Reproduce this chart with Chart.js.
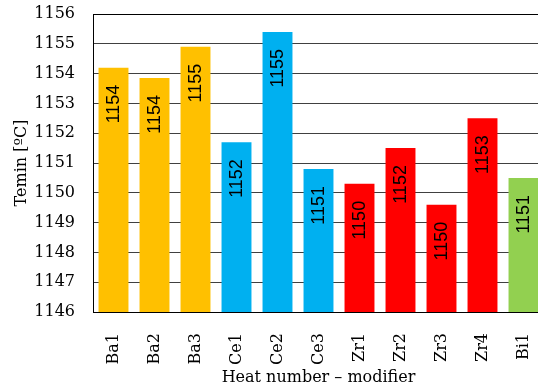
<!DOCTYPE html>
<html>
<head>
<meta charset="utf-8">
<script src="https://cdn.jsdelivr.net/npm/chart.js@4.4.1/dist/chart.umd.min.js"></script>
<style>
  html, body { margin: 0; padding: 0; background: #fff; overflow: hidden; }
  #wrap { width: 544px; height: 390px; }
</style>
</head>
<body>
<div id="wrap"><canvas id="heatChart" width="544" height="390"></canvas></div>
<script>
// heats and their modifier groups
var heats = ["Ba1", "Ba2", "Ba3", "Ce1", "Ce2", "Ce3", "Zr1", "Zr2", "Zr3", "Zr4", "Bi1"];
var temin = [1154.2, 1153.85, 1154.9, 1151.7, 1155.4, 1150.8, 1150.3, 1151.5, 1149.6, 1152.5, 1150.5];
var barColors = ["#FFC000", "#FFC000", "#FFC000", "#00B0F0", "#00B0F0", "#00B0F0",
                 "#FF0000", "#FF0000", "#FF0000", "#FF0000", "#92D050"];
var yMin = 1146, yMax = 1156, yStep = 1;

var serif = "'DejaVu Serif', 'Liberation Serif', serif";

// values written vertically inside the bars
var barLabels = {
    id: 'barLabels',
    afterDatasetsDraw: function(chart) {
        var ctx = chart.ctx;
        var meta = chart.getDatasetMeta(0);
        ctx.save();
        ctx.font = "18px 'Liberation Sans', Arial, sans-serif";
        ctx.fillStyle = "#000";
        ctx.textAlign = "right";
        ctx.textBaseline = "middle";
        meta.data.forEach(function(bar, i) {
            ctx.save();
            ctx.translate(bar.x, bar.y + 17);
            ctx.rotate(-Math.PI / 2);
            ctx.fillText(Math.round(temin[i]), 0, 1);
            ctx.restore();
        });
        ctx.restore();
    }
};

var chart = new Chart(document.getElementById("heatChart").getContext("2d"), {
    type: 'bar',
    data: {
        labels: heats,
        datasets: [{
            data: temin,
            backgroundColor: barColors,
            borderWidth: 0,
            categoryPercentage: 1.0,
            barPercentage: 0.73
        }]
    },
    options: {
        responsive: false,
        animation: false,
        layout: { padding: 0 },
        plugins: { legend: { display: false }, tooltip: { enabled: false } },
        scales: {
            x: {
                grid: { display: false },
                border: { display: true, color: "#000", width: 1 },
                ticks: {
                    color: "#000",
                    font: { family: serif, size: 16 },
                    minRotation: 90,
                    maxRotation: 90,
                    padding: 13
                },
                title: {
                    display: true,
                    text: "Heat number \u2013 modifier",
                    color: "#000",
                    font: { family: serif, size: 16 },
                    padding: { top: 0, bottom: 3 }
                },
                afterFit: function(s) {
                    s.height = 78;
                    s.paddingLeft = 0;
                    s.paddingRight = 0;
                }
            },
            y: {
                min: yMin,
                max: yMax,
                ticks: {
                    stepSize: yStep,
                    color: "#000",
                    font: { family: serif, size: 16 },
                    padding: 18,
                    callback: function(v) { return String(v); }
                },
                grid: {
                    color: function(c) { return c.tick && c.tick.value === yMax ? "#000" : "#404040"; },
                    lineWidth: 1,
                    drawTicks: false
                },
                border: { display: true, color: "#000", width: 1 },
                title: {
                    display: true,
                    text: "Temin [\u00BAC]",
                    color: "#000",
                    font: { family: serif, size: 16 },
                    padding: { top: 12, bottom: 0 }
                },
                afterFit: function(s) {
                    s.width = 93;
                    s.paddingTop = 14;
                    s.paddingBottom = 0;
                }
            }
        }
    },
    plugins: [barLabels]
});
</script>
</body>
</html>
